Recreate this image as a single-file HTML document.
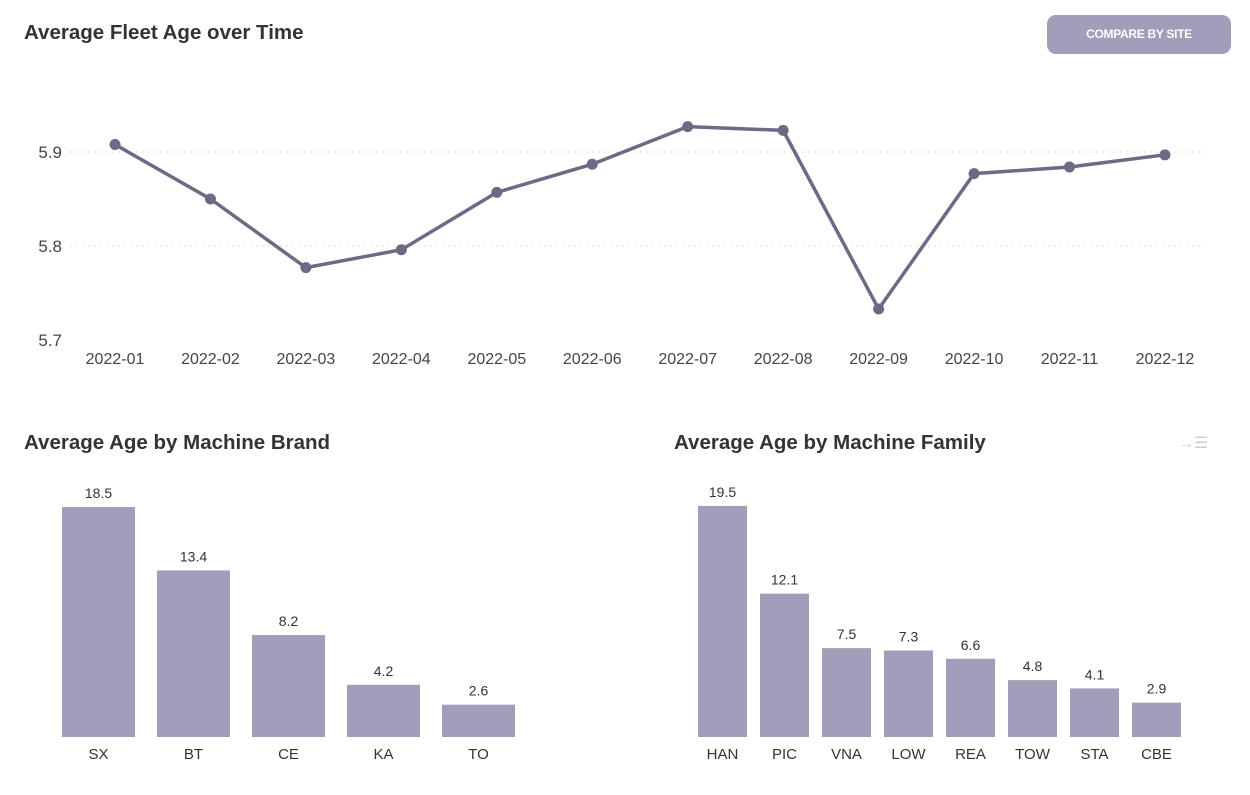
<!DOCTYPE html>
<html><head><meta charset="utf-8"><style>
body{margin:0;width:1250px;height:795px;background:#fff;font-family:"Liberation Sans",sans-serif;overflow:hidden;position:relative}
.t{position:absolute;font-weight:bold;font-size:20.5px;color:#333;letter-spacing:0px}
#btn{position:absolute;left:1047px;top:15px;width:184px;height:39px;background:#a29db8;border-radius:9px;color:#fff;font-size:12px;font-weight:bold;text-align:center;line-height:39px;letter-spacing:-0.3px}
svg{position:absolute;left:0;top:0}
</style></head><body>
<div class="t" style="left:24px;top:21px">Average Fleet Age over Time</div>
<div id="btn">COMPARE BY SITE</div>
<div class="t" style="left:24px;top:431px">Average Age by Machine Brand</div>
<div class="t" style="left:674px;top:431px">Average Age by Machine Family</div>
<div style="position:absolute;left:1178px;top:433px;color:#ccc;font-size:16px">→☰</div>
<svg id="s" width="1250" height="795"></svg>
<script>
const months=["2022-01","2022-02","2022-03","2022-04","2022-05","2022-06","2022-07","2022-08","2022-09","2022-10","2022-11","2022-12"];
const ages=[5.908,5.85,5.777,5.796,5.857,5.887,5.927,5.923,5.733,5.877,5.884,5.897];
const yTicks=[5.7,5.8,5.9];
const brands=["SX","BT","CE","KA","TO"];
const brandVals=[18.5,13.4,8.2,4.2,2.6];
const families=["HAN","PIC","VNA","LOW","REA","TOW","STA","CBE"];
const familyVals=[19.5,12.1,7.5,7.3,6.6,4.8,4.1,2.9];
const s=document.getElementById('s');const NS="http://www.w3.org/2000/svg";
function el(t,a,txt){const e=document.createElementNS(NS,t);for(const k in a)e.setAttribute(k,a[k]);if(txt!==undefined)e.textContent=txt;s.appendChild(e);return e;}
const x=i=>115+i*95.45, y=v=>340-(v-5.7)*940;
yTicks.forEach(v=>{
 if(v>5.7){const g=el('line',{x1:70,x2:1205,y1:y(v),y2:y(v),stroke:'#ddd','stroke-dasharray':'2,4'});}
 const t=el('text',{x:62,y:y(v)+6,'text-anchor':'end','font-size':17,fill:'#444'},v.toFixed(1));
 
});
months.forEach((m,i)=>{const t=el('text',{x:x(i),y:364,'text-anchor':'middle','font-size':16,fill:'#444'},m);
 });
const p=el('polyline',{points:ages.map((v,i)=>x(i)+','+y(v)).join(' '),fill:'none',stroke:'#6e6a85','stroke-width':3.5});

ages.forEach((v,i)=>{const c=el('circle',{cx:x(i),cy:y(v),r:5.5,fill:'#6e6a85'});
 });
function bars(cats,vals,x0,step,w,scale){
 cats.forEach((c,i)=>{const h=vals[i]*scale,bx=x0+i*step;
  const r=el('rect',{x:bx,y:737-h,width:w,height:h,fill:'#a29db8'});
  
  const v=el('text',{x:bx+w/2,y:737-h-9,'text-anchor':'middle','font-size':14,fill:'#333'},vals[i]);
  
  const l=el('text',{x:bx+w/2,y:759,'text-anchor':'middle','font-size':15,fill:'#333'},c);
  
 });
}
bars(brands,brandVals,62,95,73,12.43);
bars(families,familyVals,698,62,49,11.85);
</script>
</body></html>
